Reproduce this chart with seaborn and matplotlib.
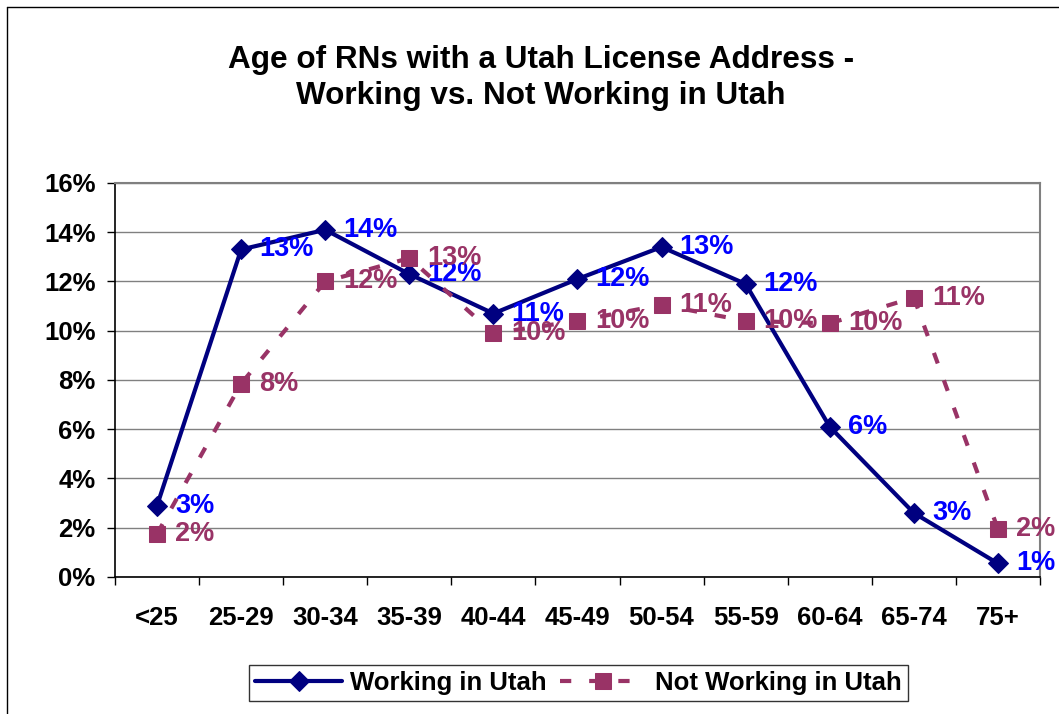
import numpy as np
import matplotlib
matplotlib.use('Agg')
import matplotlib.pyplot as plt
import seaborn as sns
from matplotlib.ticker import FixedLocator, FuncFormatter

# data (percent of RNs)
age_groups = ['<25', '25-29', '30-34', '35-39', '40-44', '45-49',
              '50-54', '55-59', '60-64', '65-74', '75+']
working = [2.9, 13.3, 14.1, 12.3, 10.7, 12.1, 13.4, 11.9, 6.1, 2.6, 0.55]
not_working = [1.75, 7.85, 12.0, 12.95, 9.9, 10.4, 11.05, 10.4, 10.3, 11.35, 1.95]

sns.set_theme(style='white')
plt.rcParams['font.family'] = ['Liberation Sans', 'DejaVu Sans']
plt.rcParams['font.weight'] = 'bold'
plt.rcParams['text.color'] = 'black'
plt.rcParams['xtick.color'] = 'black'
plt.rcParams['ytick.color'] = 'black'

fig = plt.figure(figsize=(10.59, 7.14), dpi=100)
ax = fig.add_axes([0.1086, 0.1919, 0.8734, 0.5518])

x = np.arange(len(age_groups))
sns.lineplot(x=x, y=working, ax=ax, color='#000080', linewidth=3,
             marker='D', markersize=10, markeredgecolor='#000080',
             label='Working in Utah')
sns.lineplot(x=x, y=not_working, ax=ax, color='#993366', linewidth=3,
             marker='s', markersize=12, markeredgecolor='#993366',
             label='Not Working in Utah')
ax.lines[1].set_linestyle((0, (2.7, 4.3)))

# data labels
for xi, v in zip(x, working):
    ax.annotate(f'{v:.0f}%', (xi, v), xytext=(13, 0), textcoords='offset points',
                ha='left', va='center', color='#0000FF', fontsize=19.5,
                fontweight='bold')
for xi, v in zip(x, not_working):
    ax.annotate(f'{v:.0f}%', (xi, v), xytext=(13, 0), textcoords='offset points',
                ha='left', va='center', color='#993366', fontsize=19.5,
                fontweight='bold')

ax.set_xlim(-0.5, len(age_groups) - 0.5)
ax.set_ylim(0, 16)
ax.set_yticks(np.arange(0, 17, 2))
ax.yaxis.set_major_formatter(FuncFormatter(lambda v, p: f'{v:.0f}%'))
ax.set_xticks(x)
ax.set_xticklabels(age_groups)
ax.xaxis.set_minor_locator(FixedLocator(np.arange(-0.5, len(age_groups), 1)))
ax.tick_params(axis='x', which='major', length=0, pad=21, labelsize=18.5,
               labelcolor='black')
ax.tick_params(axis='x', which='minor', length=6, width=1, color='black',
               direction='out', bottom=True)
ax.tick_params(axis='y', length=6, width=1, color='black', direction='out',
               left=True, pad=8, labelsize=18.5, labelcolor='black')
for lab in ax.get_xticklabels() + ax.get_yticklabels():
    lab.set_fontweight('bold')

ax.grid(axis='y', color='#808080', linewidth=1)
ax.set_axisbelow(True)
for side in ['left', 'bottom']:
    ax.spines[side].set_color('black')
    ax.spines[side].set_linewidth(1.2)
for side in ['top', 'right']:
    ax.spines[side].set_color('#808080')
    ax.spines[side].set_linewidth(1.5)
ax.set_xlabel('')
ax.set_ylabel('')

leg = ax.legend(loc='center', bbox_to_anchor=(0.546, 1 - 683 / 714),
                bbox_transform=fig.transFigure, ncol=2, frameon=True,
                fancybox=False, shadow=False, fontsize=18.5,
                handlelength=3.4, handletextpad=0.3, columnspacing=0.5,
                borderpad=0.25, borderaxespad=0)
leg.get_frame().set_edgecolor('black')
leg.get_frame().set_linewidth(1)
for t in leg.get_texts():
    t.set_fontweight('bold')
    t.set_color('black')

fig.text(0.511, 1 - 78 / 714,
         'Age of RNs with a Utah License Address -\nWorking vs. Not Working in Utah',
         ha='center', va='center', fontsize=22.7, fontweight='bold',
         linespacing=1.3, color='black')

# outer chart border (left and top edges visible)
fig.add_artist(plt.Line2D([7 / 1059, 7 / 1059], [0, 1 - 7 / 714],
                          transform=fig.transFigure, color='black', linewidth=1))
fig.add_artist(plt.Line2D([7 / 1059, 1], [1 - 7 / 714, 1 - 7 / 714],
                          transform=fig.transFigure, color='black', linewidth=1))

fig.savefig('out.png', dpi=100)
